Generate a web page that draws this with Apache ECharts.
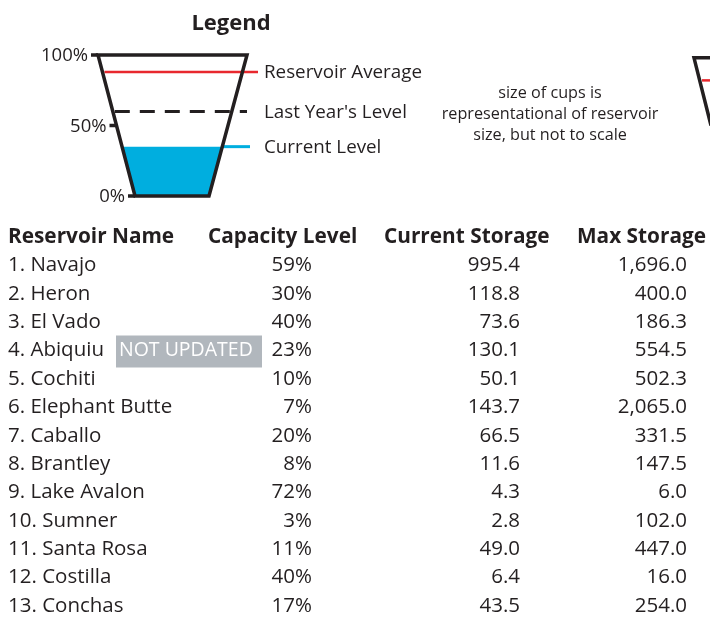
<!DOCTYPE html>
<html>
<head>
<meta charset="utf-8">
<script src="https://cdn.jsdelivr.net/npm/echarts@6/dist/echarts.min.js"></script>
<style>
  html, body { margin: 0; padding: 0; background: #fff; }
  #chart { width: 710px; height: 618px; }
</style>
</head>
<body>
<div id="chart"></div>
<script>
// table data
const headers = ['Reservoir Name', 'Capacity Level', 'Current Storage', 'Max Storage']
const names = ['Navajo', 'Heron', 'El Vado', 'Abiquiu', 'Cochiti', 'Elephant Butte', 'Caballo',
  'Brantley', 'Lake Avalon', 'Sumner', 'Santa Rosa', 'Costilla', 'Conchas']
const capacity = [59, 30, 40, 23, 10, 7, 20, 8, 72, 3, 11, 40, 17]
const currentStorage = [995.4, 118.8, 73.6, 130.1, 50.1, 143.7, 66.5, 11.6, 4.3, 2.8, 49.0, 6.4, 43.5]
const maxStorage = [1696.0, 400.0, 186.3, 554.5, 502.3, 2065.0, 331.5, 147.5, 6.0, 102.0, 447.0, 16.0, 254.0]
const notUpdated = ['Abiquiu']

// legend cup
const legendLabels = ['Reservoir Average', "Last Year's Level", 'Current Level']
const legendValues = [88, 60, 35]
const cupTicks = [0, 50, 100]
const cupTickLabels = ['0%', '50%', '100%']
const noteLines = ['size of cups is', 'representational of reservoir', 'size, but not to scale']

const FONT = '"Open Sans", "Noto Sans", sans-serif'
const INK = '#231f20'
const RED = '#e8282e'
const BLUE = '#00aedf'

const chart = echarts.init(document.getElementById('chart'))

function fmt(v) {
  return v.toLocaleString('en-US', { minimumFractionDigits: 1, maximumFractionDigits: 1 })
}

// wall position of the legend cup at a given percent level
function wallL(p) { return 135 - 37 * p / 100 }
function wallR(p) { return 209 + 38 * p / 100 }

function renderCup(params, api) {
  const c = (x, p) => api.coord([x, p])
  const kids = []
  // water
  const cur = legendValues[2]
  kids.push({
    type: 'polygon',
    shape: { points: [c(wallL(0), 0), c(wallR(0), 0), c(wallR(cur), cur), c(wallL(cur), cur)] },
    style: { fill: BLUE }
  })
  kids.push({
    type: 'line',
    shape: { x1: c(wallR(cur), cur)[0], y1: c(0, cur)[1], x2: 250, y2: c(0, cur)[1] },
    style: { stroke: BLUE, lineWidth: 3 }
  })
  // reservoir average
  const avg = legendValues[0]
  kids.push({
    type: 'line',
    shape: { x1: c(wallL(avg) + 2, avg)[0], y1: c(0, avg)[1], x2: 258, y2: c(0, avg)[1] },
    style: { stroke: RED, lineWidth: 2.5 }
  })
  // last year
  const ly = legendValues[1]
  kids.push({
    type: 'line',
    shape: { x1: c(wallL(ly), ly)[0] + 2, y1: c(0, ly)[1], x2: 247, y2: c(0, ly)[1] },
    style: { stroke: INK, lineWidth: 3, lineDash: [15, 10] }
  })
  // cup outline
  kids.push({
    type: 'polygon',
    shape: { points: [c(wallL(100), 100), c(wallR(100), 100), c(wallR(0), 0), c(wallL(0), 0)] },
    style: { fill: 'none', stroke: INK, lineWidth: 3.5, lineJoin: 'miter' }
  })
  // ticks and tick labels
  cupTicks.forEach((t, i) => {
    const p = c(wallL(t), t)
    kids.push({
      type: 'line',
      shape: { x1: p[0] - 7, y1: p[1], x2: p[0], y2: p[1] },
      style: { stroke: INK, lineWidth: 3.5 }
    })
    kids.push({
      type: 'text', x: p[0] - 10, y: p[1] + 1,
      style: { text: cupTickLabels[i], fill: INK, fontSize: 18.5, fontFamily: FONT, align: 'right', verticalAlign: 'middle' }
    })
  })
  // legend labels
  legendValues.forEach((v, i) => {
    kids.push({
      type: 'text', x: 264, y: c(0, v)[1] + 1,
      style: { text: legendLabels[i], fill: INK, fontSize: 18.8, fontFamily: FONT, align: 'left', verticalAlign: 'middle' }
    })
  })
  // partial cup cut off at the right edge
  const rTop = c(694, 98)
  kids.push({
    type: 'line',
    shape: { x1: 702, y1: c(0, 82)[1], x2: 712, y2: c(0, 82)[1] },
    style: { stroke: RED, lineWidth: 2.5 }
  })
  kids.push({
    type: 'polyline',
    shape: { points: [[730, rTop[1]], rTop, [711, c(0, 50)[1]]] },
    style: { fill: 'none', stroke: INK, lineWidth: 3.5 }
  })
  return { type: 'group', children: kids }
}

const colX = [8, 312, 520, 687]
const headX = [8, 208, 384, 577]

function renderRow(params, api) {
  const row = api.value(1)
  const y = api.coord([0, row])[1]
  const kids = []
  const txt = (x, s, align, bold, color, size) => ({
    type: 'text', x: x, y: y,
    style: {
      text: s, fill: color || INK, fontSize: size || 20.5, fontFamily: FONT,
      fontWeight: bold ? 'bold' : 'normal', align: align, verticalAlign: 'middle'
    }
  })
  if (row === 0) {
    headers.forEach((h, i) => kids.push(txt(headX[i], h, 'left', true, INK, 20.8)))
    return { type: 'group', children: kids }
  }
  const i = row - 1
  kids.push(txt(colX[0], (i + 1) + '. ' + names[i], 'left'))
  if (notUpdated.indexOf(names[i]) >= 0) {
    kids.push({ type: 'rect', shape: { x: 116, y: y - 15, width: 146, height: 32 }, style: { fill: '#b1b7bd' } })
    kids.push(txt(119, 'NOT UPDATED', 'left', false, '#ffffff', 19.5))
  }
  kids.push(txt(colX[1], capacity[i] + '%', 'right'))
  kids.push(txt(colX[2], fmt(currentStorage[i]), 'right'))
  kids.push(txt(colX[3], fmt(maxStorage[i]), 'right'))
  return { type: 'group', children: kids }
}

const rowData = [[0, 0]].concat(names.map((n, i) => [0, i + 1]))

const option = {
  animation: false,
  title: {
    text: 'Legend', left: 226, top: 8, textAlign: 'center',
    textStyle: { fontSize: 22, fontWeight: 'bold', color: INK, fontFamily: FONT }
  },
  graphic: noteLines.map((s, i) => ({
    type: 'text', x: 550, y: 93 + i * 21,
    style: { text: s, fill: INK, fontSize: 16.2, fontFamily: FONT, align: 'center', verticalAlign: 'middle' }
  })),
  grid: [
    { left: 0, right: 0, top: 55, height: 141 },
    { left: 0, right: 0, top: 237, height: 369 }
  ],
  xAxis: [
    { type: 'value', gridIndex: 0, min: 0, max: 710, show: false },
    { type: 'value', gridIndex: 1, min: 0, max: 710, show: false }
  ],
  yAxis: [
    { type: 'value', gridIndex: 0, min: 0, max: 100, show: false },
    { type: 'value', gridIndex: 1, min: 0, max: 13, inverse: true, show: false }
  ],
  series: [
    { type: 'custom', xAxisIndex: 0, yAxisIndex: 0, data: [[0, 0]], renderItem: renderCup, silent: true },
    { type: 'custom', xAxisIndex: 1, yAxisIndex: 1, data: rowData, renderItem: renderRow, silent: true }
  ]
}
chart.setOption(option)
</script>
</body>
</html>
